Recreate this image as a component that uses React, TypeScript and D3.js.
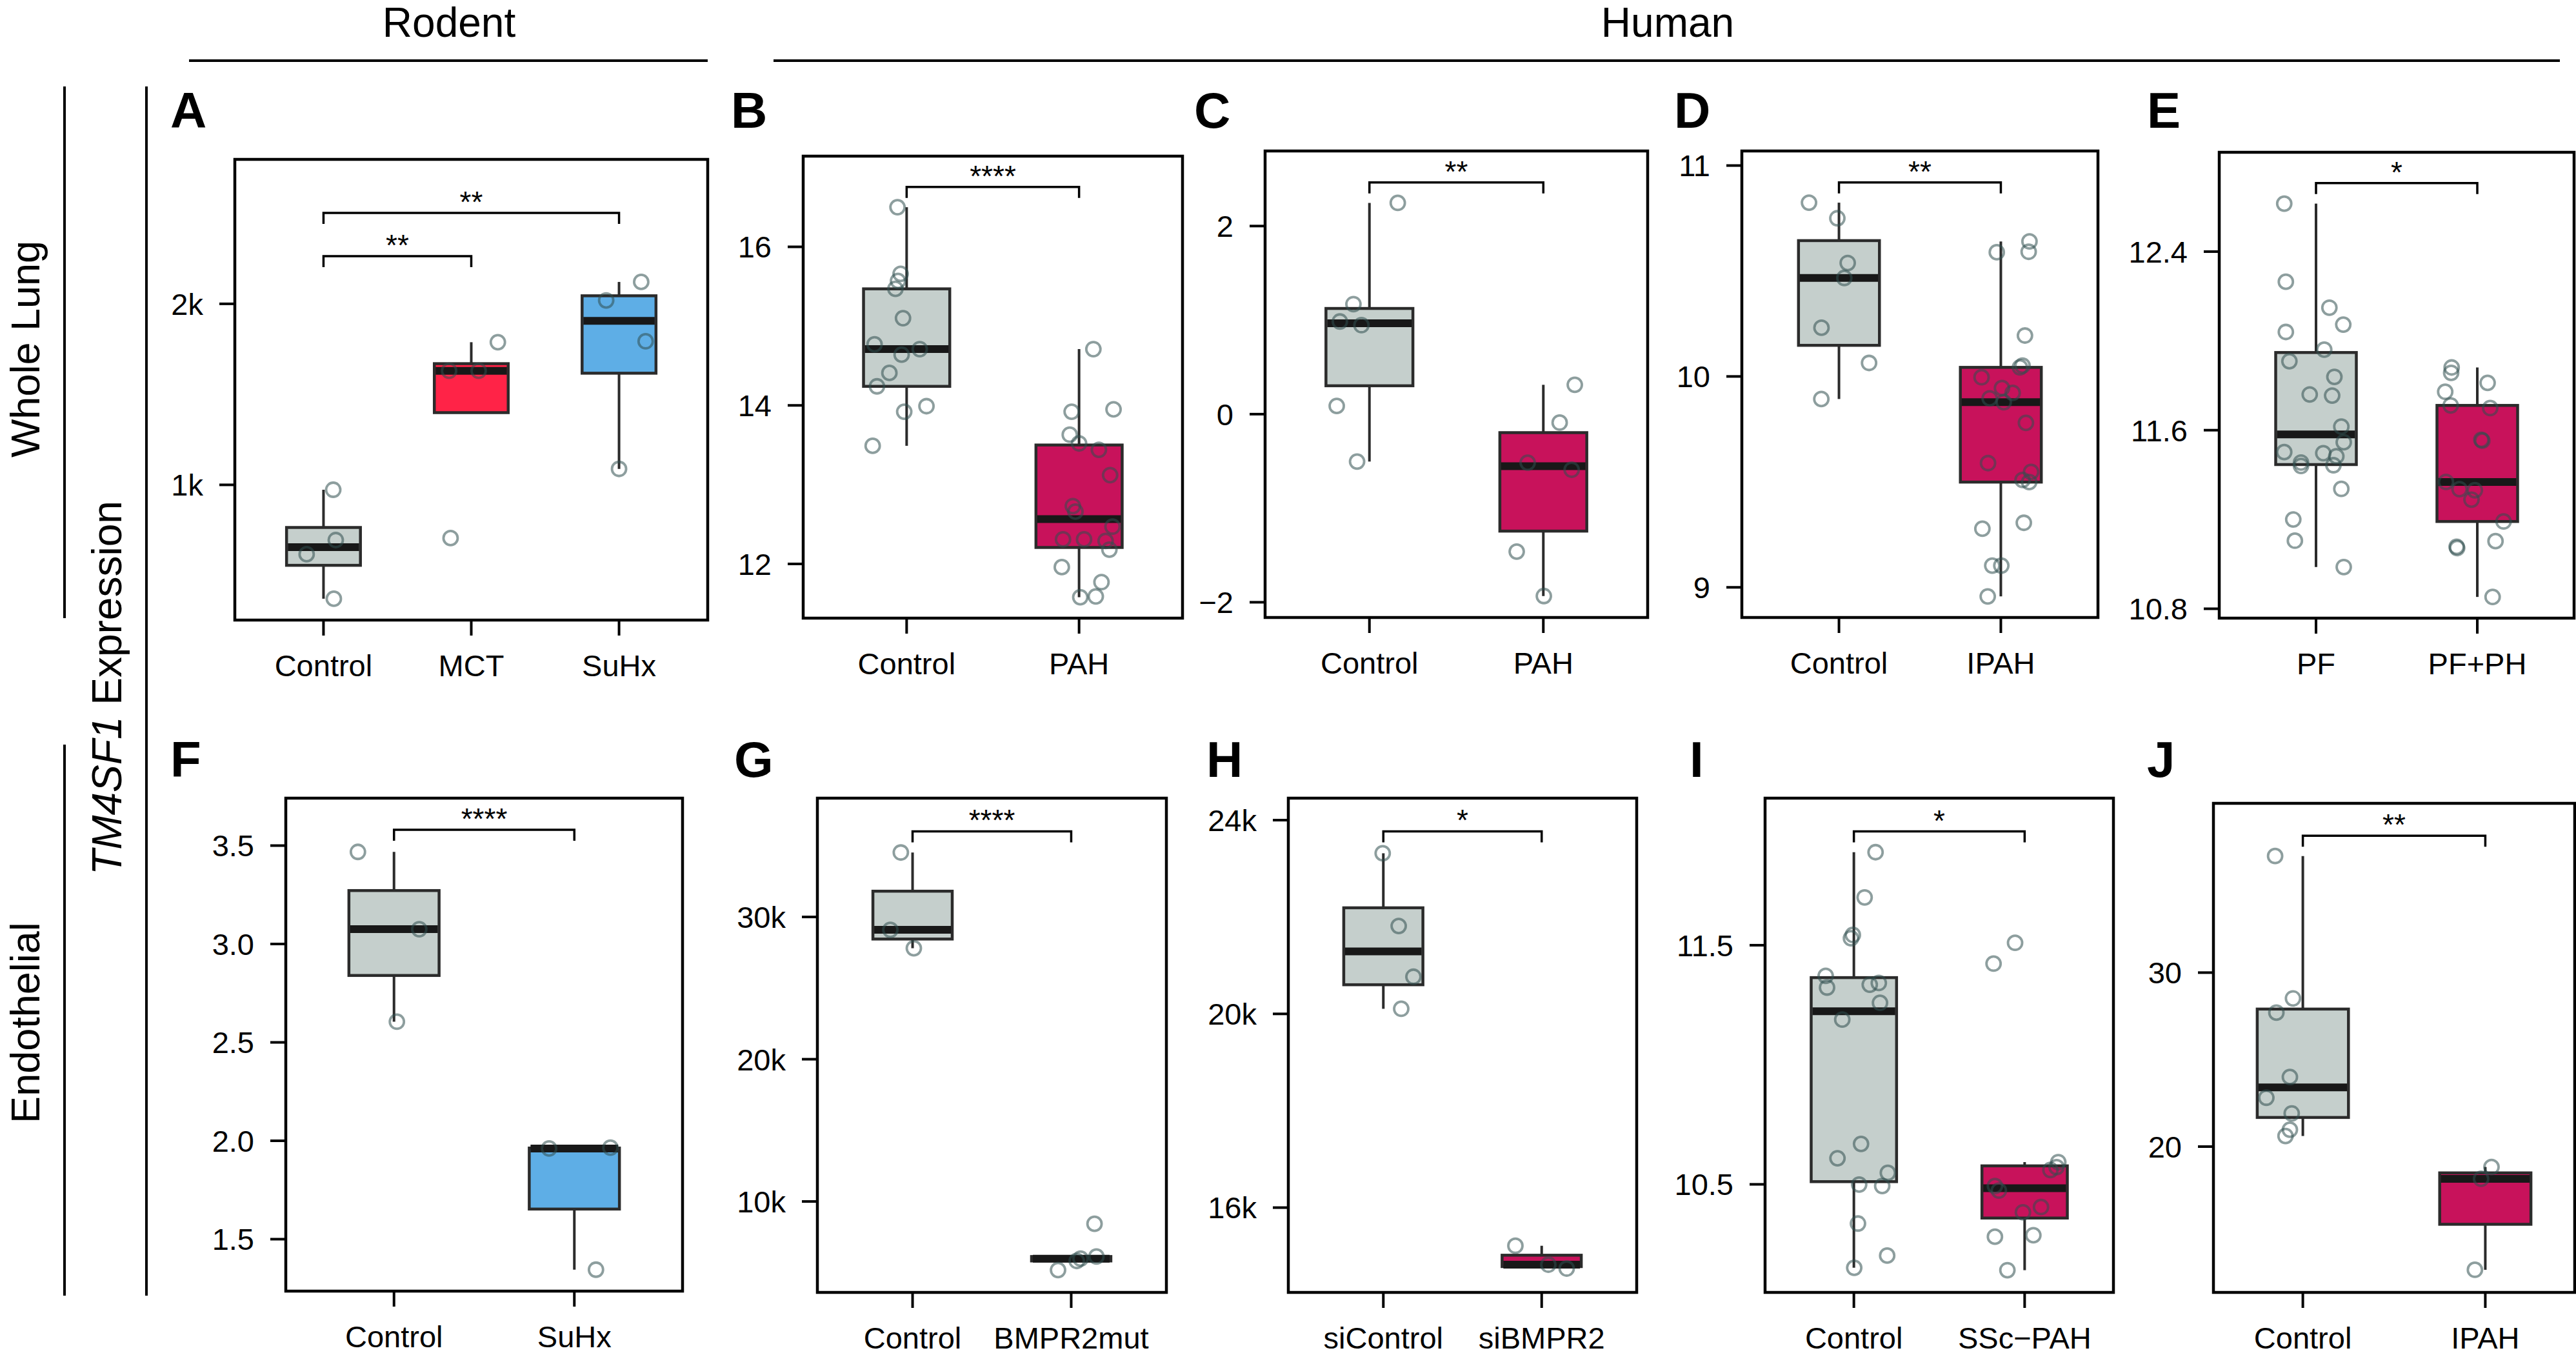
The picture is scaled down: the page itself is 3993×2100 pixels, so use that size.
import * as d3 from "d3";

// [value, horizontal jitter as a fraction of the category step]
type Pt = [number, number];

// ---------- A: rodent whole lung ----------
const aCats = ["Control", "MCT", "SuHx"];
const aControl: Pt[] = [[973, 0.066], [695, 0.083], [617, -0.114], [371, 0.07]];
const aMCT: Pt[] = [[1788, 0.18], [1630, -0.15], [1630, 0.05], [706, -0.14]];
const aSuHx: Pt[] = [[2121, 0.15], [2019, -0.087], [1793, 0.18], [1088, 0]];
const aTicks = [1000, 2000];

// ---------- B ----------
const bCats = ["Control", "PAH"];
const bControl: Pt[] = [
  [16.5, -0.053], [15.66, -0.035], [15.57, -0.05], [15.47, -0.065], [15.1, -0.021],
  [14.77, -0.186], [14.71, 0.076], [14.64, -0.029], [14.41, -0.1], [14.24, -0.172],
  [13.99, 0.115], [13.92, -0.014], [13.49, -0.197],
];
const bPAH: Pt[] = [
  [14.71, 0.083], [13.92, -0.043], [13.95, 0.2], [13.63, -0.054], [13.52, 0], [13.44, 0.115],
  [13.12, 0.18], [12.73, -0.036], [12.66, -0.021], [12.47, 0.194], [12.31, -0.093], [12.31, 0.029],
  [12.29, 0.154], [12.18, 0.176], [11.96, -0.1], [11.77, 0.13], [11.58, 0.007], [11.59, 0.097],
];
const bTicks = [12, 14, 16];

// ---------- C ----------
const cCats = ["Control", "PAH"];
const cControl: Pt[] = [[2.246, 0.163], [1.17, -0.092], [0.985, -0.17], [0.946, -0.046], [0.087, -0.188], [-0.504, -0.071]];
const cPAH: Pt[] = [[0.312, 0.181], [-0.09, 0.094], [-0.516, -0.09], [-0.591, 0.163], [-1.461, -0.153], [-1.934, 0.003]];
const cTicks = [-2, 0, 2];

// ---------- D ----------
const dCats = ["Control", "IPAH"];
const dControl: Pt[] = [[10.824, -0.185], [10.75, -0.01], [10.538, 0.054], [10.467, 0.033], [10.231, -0.108], [10.064, 0.186], [9.893, -0.109]];
const dIPAH: Pt[] = [
  [10.64, 0.177], [10.589, -0.025], [10.591, 0.172], [10.194, 0.149], [10.051, 0.134], [10.043, 0.118],
  [9.996, -0.119], [9.945, 0.007], [9.922, 0.073], [9.896, -0.069], [9.878, 0.018], [9.78, 0.155],
  [9.589, -0.079], [9.547, 0.187], [9.509, 0.134], [9.499, 0.175], [9.306, 0.142], [9.278, -0.114],
  [9.103, -0.053], [9.103, 0.003], [8.957, -0.081],
];
const dTicks = [9, 10, 11];

// ---------- E ----------
const eCats = ["PF", "PF+PH"];
const ePF: Pt[] = [
  [12.615, -0.197], [12.265, -0.187], [12.149, 0.083], [12.073, 0.169], [12.04, -0.187], [11.961, 0.051],
  [11.909, -0.165], [11.839, 0.114], [11.76, -0.039], [11.755, 0.1], [11.616, 0.157], [11.546, 0.172],
  [11.502, -0.197], [11.497, 0.045], [11.483, 0.126], [11.455, -0.093], [11.44, -0.093], [11.443, 0.108],
  [11.337, 0.157], [11.2, -0.141], [11.105, -0.131], [10.987, 0.172],
];
const ePFPH: Pt[] = [
  [11.881, -0.159], [11.857, -0.162], [11.812, 0.064], [11.772, -0.199], [11.711, -0.165], [11.699, 0.08],
  [11.557, 0.025], [11.553, 0.031], [11.368, -0.194], [11.336, -0.11], [11.331, -0.015], [11.289, -0.036],
  [11.191, 0.163], [11.103, 0.113], [11.078, -0.128], [11.072, -0.125], [10.853, 0.095],
];
const eTicks = [10.8, 11.6, 12.4];

// ---------- F: rodent endothelial ----------
const fCats = ["Control", "SuHx"];
const fControl: Pt[] = [[3.468, -0.2], [3.075, 0.14], [2.605, 0.016]];
const fSuHx: Pt[] = [[1.961, -0.14], [1.965, 0.2], [1.345, 0.12]];
const fTicks = [1.5, 2.0, 2.5, 3.0, 3.5];

// ---------- G ----------
const gCats = ["Control", "BMPR2mut"];
const gControl: Pt[] = [[34529, -0.074], [29093, -0.14], [27802, 0.008]];
const gBMPR2mut: Pt[] = [[8430, 0.147], [6130, 0.159], [5980, 0.059], [5820, 0.035], [5180, -0.083]];
const gTicks = [10000, 20000, 30000];

// ---------- H ----------
const hCats = ["siControl", "siBMPR2"];
const hControl: Pt[] = [[23316, -0.004], [21815, 0.097], [20767, 0.19], [20105, 0.113]];
const hBMPR2: Pt[] = [[15212, -0.166], [14822, 0.042], [14742, 0.158]];
const hTicks = [16000, 20000, 24000];

// ---------- I ----------
const iCats = ["Control", "SSc\u2212PAH"];
const iControl: Pt[] = [
  [11.889, 0.127], [11.7, 0.063], [11.543, -0.006], [11.529, -0.017], [11.372, -0.165], [11.323, -0.157],
  [11.335, 0.093], [11.342, 0.146], [11.259, 0.153], [11.189, -0.068], [10.669, 0.042], [10.609, -0.096],
  [10.548, 0.199], [10.499, 0.031], [10.493, 0.166], [10.336, 0.024], [10.202, 0.195], [10.151, 0.002],
];
const iSSc: Pt[] = [
  [11.51, -0.056], [11.423, -0.182], [10.593, 0.197], [10.572, 0.187], [10.56, 0.151], [10.493, -0.174],
  [10.474, -0.151], [10.405, 0.096], [10.383, -0.01], [10.281, -0.174], [10.287, 0.051], [10.141, -0.101],
];
const iTicks = [10.5, 11.5];

// ---------- J ----------
const jCats = ["Control", "IPAH"];
const jControl: Pt[] = [[36.7, -0.152], [28.52, -0.054], [27.7, -0.145], [24.0, -0.071], [22.81, -0.2], [21.91, -0.061], [20.97, -0.071], [20.61, -0.095]];
const jIPAH: Pt[] = [[18.83, 0.034], [18.15, -0.023], [12.92, -0.057]];
const jTicks = [20, 30];

// ---------- styling ----------
const FONT = "'Liberation Sans', Arial, Helvetica, sans-serif";
const GRAY = "#c5cfcc";
const CRIMSON = "#c8125b";
const RED = "#ff2347";
const BLUE = "#5eaee6";
const kFmt = (v: number) => `${v / 1000}k`;
const intFmt = d3.format("d");
const oneFmt = d3.format(".1f");

interface Bracket { from: number; to: number; y: number; label: string }
interface PanelCfg {
  letter: string; lx: number; ly: number;
  x0: number; x1: number; y0: number; y1: number; pad: number;
  cats: string[]; groups: Pt[][]; fills: string[];
  yDomain: [number, number]; yTicks: number[]; yFmt: (v: number) => string;
  brackets: Bracket[];
}

const panels: PanelCfg[] = [
  { letter: "A", lx: 264, ly: 198, x0: 364, x1: 1097, y0: 247, y1: 961, pad: 0.6,
    cats: aCats, groups: [aControl, aMCT, aSuHx], fills: [GRAY, RED, BLUE],
    yDomain: [253, 2798], yTicks: aTicks, yFmt: kFmt,
    brackets: [{ from: 0, to: 1, y: 2263, label: "**" }, { from: 0, to: 2, y: 2502, label: "**" }] },
  { letter: "B", lx: 1133, ly: 198, x0: 1245, x1: 1833, y0: 242, y1: 958, pad: 0.6,
    cats: bCats, groups: [bControl, bPAH], fills: [GRAY, CRIMSON],
    yDomain: [11.316, 17.144], yTicks: bTicks, yFmt: intFmt,
    brackets: [{ from: 0, to: 1, y: 16.756, label: "****" }] },
  { letter: "C", lx: 1851, ly: 198, x0: 1961, x1: 2554, y0: 234, y1: 957, pad: 0.6,
    cats: cCats, groups: [cControl, cPAH], fills: [GRAY, CRIMSON],
    yDomain: [-2.162, 2.798], yTicks: cTicks, yFmt: intFmt,
    brackets: [{ from: 0, to: 1, y: 2.463, label: "**" }] },
  { letter: "D", lx: 2595, ly: 198, x0: 2700, x1: 3252, y0: 234, y1: 957, pad: 0.6,
    cats: dCats, groups: [dControl, dIPAH], fills: [GRAY, CRIMSON],
    yDomain: [8.857, 11.069], yTicks: dTicks, yFmt: intFmt,
    brackets: [{ from: 0, to: 1, y: 10.92, label: "**" }] },
  { letter: "E", lx: 3328, ly: 198, x0: 3440, x1: 3990, y0: 236, y1: 958, pad: 0.6,
    cats: eCats, groups: [ePF, ePFPH], fills: [GRAY, CRIMSON],
    yDomain: [10.758, 12.845], yTicks: eTicks, yFmt: oneFmt,
    brackets: [{ from: 0, to: 1, y: 12.707, label: "*" }] },
  { letter: "F", lx: 264, ly: 1204, x0: 443, x1: 1058, y0: 1237, y1: 2001, pad: 0.6,
    cats: fCats, groups: [fControl, fSuHx], fills: [GRAY, BLUE],
    yDomain: [1.236, 3.741], yTicks: fTicks, yFmt: oneFmt,
    brackets: [{ from: 0, to: 1, y: 3.58, label: "****" }] },
  { letter: "G", lx: 1138, ly: 1204, x0: 1267, x1: 1808, y0: 1237, y1: 2003, pad: 0.6,
    cats: gCats, groups: [gControl, gBMPR2mut], fills: [GRAY, CRIMSON],
    yDomain: [3608, 38350], yTicks: gTicks, yFmt: kFmt,
    brackets: [{ from: 0, to: 1, y: 36016, label: "****" }] },
  { letter: "H", lx: 1870, ly: 1204, x0: 1997, x1: 2537, y0: 1237, y1: 2003, pad: 0.6,
    cats: hCats, groups: [hControl, hBMPR2], fills: [GRAY, CRIMSON],
    yDomain: [14249, 24454], yTicks: hTicks, yFmt: kFmt,
    brackets: [{ from: 0, to: 1, y: 23768, label: "*" }] },
  { letter: "I", lx: 2619, ly: 1204, x0: 2736, x1: 3276, y0: 1237, y1: 2003, pad: 0.52,
    cats: iCats, groups: [iControl, iSSc], fills: [GRAY, CRIMSON],
    yDomain: [10.048, 12.115], yTicks: iTicks, yFmt: oneFmt,
    brackets: [{ from: 0, to: 1, y: 11.976, label: "*" }] },
  { letter: "J", lx: 3328, ly: 1204, x0: 3431, x1: 3991, y0: 1245, y1: 2003, pad: 0.49,
    cats: jCats, groups: [jControl, jIPAH], fills: [GRAY, CRIMSON],
    yDomain: [11.62, 39.73], yTicks: jTicks, yFmt: intFmt,
    brackets: [{ from: 0, to: 1, y: 37.87, label: "**" }] },
];

function boxStats(pts: Pt[]) {
  const s = pts.map((p) => p[0]).sort(d3.ascending);
  const q1 = d3.quantile(s, 0.25)!;
  const med = d3.quantile(s, 0.5)!;
  const q3 = d3.quantile(s, 0.75)!;
  const iqr = q3 - q1;
  const lo = d3.min(s.filter((v) => v >= q1 - 1.5 * iqr))!;
  const hi = d3.max(s.filter((v) => v <= q3 + 1.5 * iqr))!;
  return { q1, med, q3, lo, hi };
}

function Panel({ p }: { p: PanelCfg }) {
  const x = d3.scalePoint<string>().domain(p.cats).range([p.x0, p.x1]).padding(p.pad);
  const y = d3.scaleLinear().domain(p.yDomain).range([p.y1, p.y0]);
  const step = x.step();
  const bw = step * 0.5;
  const tip = 17;

  return (
    <g>
      <text x={p.lx} y={p.ly} fontSize={78} fontWeight="bold" fontFamily={FONT}>{p.letter}</text>

      {/* boxes */}
      {p.groups.map((g, i) => {
        const st = boxStats(g);
        const cx = x(p.cats[i])!;
        return (
          <g key={"b" + i}>
            <line x1={cx} x2={cx} y1={y(st.hi)} y2={y(st.q3)} stroke="#2b2b2b" strokeWidth={4} />
            <line x1={cx} x2={cx} y1={y(st.lo)} y2={y(st.q1)} stroke="#2b2b2b" strokeWidth={4} />
            <rect x={cx - bw / 2} width={bw} y={y(st.q3)} height={y(st.q1) - y(st.q3)}
              fill={p.fills[i]} stroke="#2b2b2b" strokeWidth={4.5} />
            <line x1={cx - bw / 2 + 2} x2={cx + bw / 2 - 2} y1={y(st.med)} y2={y(st.med)} stroke="#181818" strokeWidth={12} />
          </g>
        );
      })}

      {/* jittered points */}
      {p.groups.map((g, i) =>
        g.map((pt, k) => (
          <circle key={`p${i}-${k}`} cx={x(p.cats[i])! + pt[1] * step} cy={y(pt[0])} r={11}
            fill="none" stroke="#2f4f4f" strokeOpacity={0.55} strokeWidth={3.8} />
        ))
      )}

      {/* significance brackets */}
      {p.brackets.map((b, i) => {
        const xa = x(p.cats[b.from])!;
        const xb = x(p.cats[b.to])!;
        const yb = y(b.y);
        return (
          <g key={"s" + i}>
            <path d={`M${xa},${yb + tip}V${yb}H${xb}V${yb + tip}`} fill="none" stroke="#000" strokeWidth={3.5} />
            <text x={(xa + xb) / 2} y={yb - 1} textAnchor="middle" fontSize={46} fontFamily={FONT}>{b.label}</text>
          </g>
        );
      })}

      {/* frame */}
      <rect x={p.x0} y={p.y0} width={p.x1 - p.x0} height={p.y1 - p.y0} fill="none" stroke="#000" strokeWidth={4.5} />

      {/* y axis */}
      {p.yTicks.map((t) => (
        <g key={"y" + t}>
          <line x1={p.x0 - 24} x2={p.x0} y1={y(t)} y2={y(t)} stroke="#000" strokeWidth={4} />
          <text x={p.x0 - 49} y={y(t)} dy="0.36em" textAnchor="end" fontSize={47} fontFamily={FONT}>{p.yFmt(t)}</text>
        </g>
      ))}

      {/* x axis */}
      {p.cats.map((c) => (
        <g key={"x" + c}>
          <line x1={x(c)!} x2={x(c)!} y1={p.y1} y2={p.y1 + 24} stroke="#000" strokeWidth={4} />
          <text x={x(c)!} y={p.y1 + 87} textAnchor="middle" fontSize={47} fontFamily={FONT}>{c}</text>
        </g>
      ))}
    </g>
  );
}

export default function App() {
  return (
    <svg width={3993} height={2100} style={{ position: "absolute", left: 0, top: 0, background: "#fff" }}
      fontFamily={FONT}>
      <rect width={3993} height={2100} fill="#fff" />

      {/* column headers */}
      <text x={696} y={57} textAnchor="middle" fontSize={64}>Rodent</text>
      <line x1={293} x2={1097} y1={94} y2={94} stroke="#000" strokeWidth={4} />
      <text x={2585} y={57} textAnchor="middle" fontSize={64}>Human</text>
      <line x1={1199} x2={3968} y1={94} y2={94} stroke="#000" strokeWidth={4} />

      {/* row labels */}
      <text transform="translate(61,541) rotate(-90)" textAnchor="middle" fontSize={63}>Whole Lung</text>
      <line x1={100} x2={100} y1={134} y2={958} stroke="#000" strokeWidth={4} />
      <text transform="translate(61,1585) rotate(-90)" textAnchor="middle" fontSize={63}>Endothelial</text>
      <line x1={100} x2={100} y1={1154} y2={2008} stroke="#000" strokeWidth={4} />
      <text transform="translate(188,1066) rotate(-90)" textAnchor="middle" fontSize={64}>
        <tspan fontStyle="italic">TM4SF1</tspan> Expression
      </text>
      <line x1={227} x2={227} y1={134} y2={2008} stroke="#000" strokeWidth={4} />

      {panels.map((p) => <Panel key={p.letter} p={p} />)}
    </svg>
  );
}
